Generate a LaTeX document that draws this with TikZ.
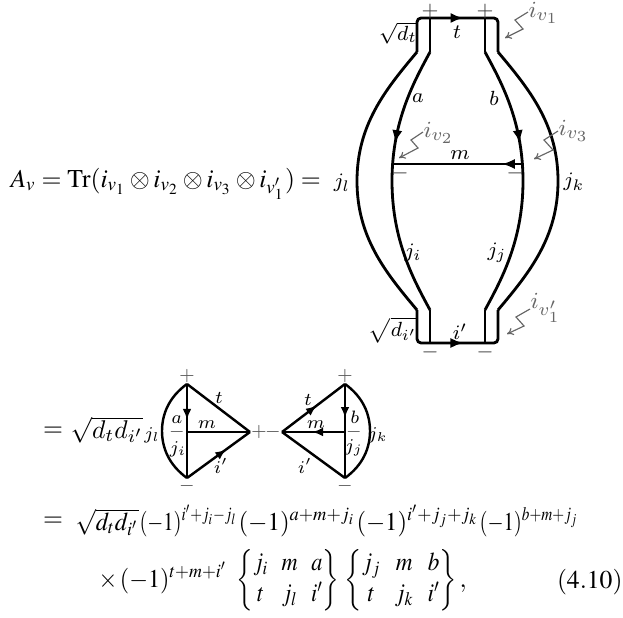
\documentclass[tikz,border=0pt]{standalone}
\usepackage{amsmath}
\usepackage{graphicx}
\usepackage{mathptmx}
\usepackage[no-math]{fontspec}
\setmainfont{Liberation Serif}
\usetikzlibrary{arrows.meta,decorations.markings}
\DeclareMathVersion{cm}
\SetSymbolFont{operators}{cm}{OT1}{lmr}{m}{n}
\SetSymbolFont{letters}{cm}{OML}{lmm}{m}{it}
\SetSymbolFont{symbols}{cm}{OMS}{lmsy}{m}{n}
\SetSymbolFont{largesymbols}{cm}{OMX}{lmex}{m}{n}
\tikzset{
  wire/.style={line width=1.1pt},
  swire/.style={line width=0.95pt},
  arrowat/.style={postaction={decorate,decoration={markings,
      mark=at position #1 with {\arrow{Latex[length=5pt,width=4pt]}}}}},
  sarrowat/.style={postaction={decorate,decoration={markings,
      mark=at position #1 with {\arrow{Latex[length=4.2pt,width=3.4pt]}}}}},
  lbl/.style={inner sep=0pt,font=\mathversion{cm}\fontsize{8}{9}\selectfont},
  slbl/.style={inner sep=0pt,font=\mathversion{cm}\fontsize{6.8}{8}\selectfont},
  sgn/.style={inner sep=0pt,text=black!75,font=\mathversion{cm}\fontsize{8.5}{9}\selectfont},
  ssgn/.style={inner sep=0pt,text=black!65,font=\mathversion{cm}\fontsize{7}{8}\selectfont},
  glbl/.style={inner sep=0pt,text=black!60,font=\mathversion{cm}\fontsize{9.2}{10}\selectfont},
  gzig/.style={draw=black!60,line width=0.45pt,-{To[length=2.5pt,width=3pt]}},
  eqn/.style={inner sep=0pt,font=\fontsize{10}{12}\selectfont},
}
\newcommand{\fitw}[2]{\resizebox{#1}{\height}{$#2$}}
\begin{document}
\begin{tikzpicture}[x=0.39pt,y=-0.39pt]
\useasboundingbox (0,0) rectangle (623,617);

% ---------- first line ----------
\node[eqn,anchor=base west] (eq1) at (10,187)
  {\fitw{121pt}{A_v = \mathrm{Tr}(i_{v_1}\otimes i_{v_2}\otimes i_{v_3}\otimes i_{v_1'}) =}};
\node[lbl] (jl) at (342,183) {$j_l$};
\node[lbl] (jk) at (574,182) {$j_k$};

% ---------- big diagram ----------
\coordinate (OLt) at (417,52);  \coordinate (OLb) at (417,310);
\coordinate (ILt) at (430,52);  \coordinate (ILb) at (430,310);
\coordinate (IRt) at (485,52);  \coordinate (IRb) at (485,310);
\coordinate (ORt) at (498,52);  \coordinate (ORb) at (498,310);
\coordinate (TL) at (417,18);   \coordinate (TR) at (498,18);
\coordinate (TIL) at (430,18);  \coordinate (TIR) at (485,18);
\coordinate (BL) at (417,343);  \coordinate (BR) at (498,343);
\coordinate (BIL) at (430,343); \coordinate (BIR) at (485,343);
\coordinate (ML) at (392,164);  \coordinate (MR) at (523,164);

\draw[wire,rounded corners=1.6pt,arrowat=0.54] (OLt) -- (TL) -- (TR) -- (ORt);
\draw[wire] (ILt) -- (TIL);
\draw[wire] (IRt) -- (TIR);
\draw[wire,rounded corners=1.6pt,arrowat=0.54] (OLb) -- (BL) -- (BR) -- (ORb);
\draw[wire] (ILb) -- (BIL);
\draw[wire] (IRb) -- (BIR);

\draw[wire,arrowat=0.36] (ILt) .. controls (415,80) and (392,120) .. (392,181)
   .. controls (392,242) and (415,282) .. (ILb);
\draw[wire,arrowat=0.36] (IRt) .. controls (500,80) and (523,120) .. (523,181)
   .. controls (523,242) and (500,282) .. (IRb);
\draw[wire] (OLt) .. controls (385,90) and (357,125) .. (357,181)
   .. controls (357,237) and (385,272) .. (OLb);
\draw[wire] (ORt) .. controls (530,90) and (558,125) .. (558,181)
   .. controls (558,237) and (530,272) .. (ORb);
\draw[wire,arrowat=0.16] (MR) -- (ML);

\node[sgn] (p1) at (430,11) {$+$};
\node[sgn] (p2) at (485,11) {$+$};
\node[sgn] (n1) at (430,352) {$-$};
\node[sgn] (n2) at (485,352) {$-$};
\node[sgn] (n3) at (400,173) {$-$};
\node[sgn] (n4) at (515,173) {$-$};

\node[lbl] (lt) at (457,32) {$t$};
\node[lbl] (la) at (418,98) {$a$};
\node[lbl] (lb) at (494,98) {$b$};
\node[lbl] (lm) at (460,155) {$m$};
\node[lbl] (lji) at (413,253) {$j_i$};
\node[lbl] (ljj) at (497,253) {$j_j$};
\node[lbl] (lip) at (460,332) {$i'$};
\node[lbl] (sdt) at (398,33) {$\sqrt{d_t}$};
\node[lbl] (sdi) at (393,330) {$\sqrt{d_{i'}}$};

\node[glbl,anchor=west] (iv1) at (528,13) {$i_{v_1}$};
\node[glbl,anchor=west] (iv2) at (423,133) {$i_{v_2}$};
\node[glbl,anchor=west] (iv3) at (558,131) {$i_{v_3}$};
\node[glbl,anchor=west] (iv4) at (530,308) {$i_{v_1'}$};
\draw[gzig] (iv1.west) ++(0,-1) -- ++(-13,8) -- ++(8,9) -- ++(-18,9);
\draw[gzig] (iv2.west) ++(0,-1) -- ++(-12,8) -- ++(7,8) -- ++(-19,10);
\draw[gzig] (iv3.west) ++(0,0) -- ++(-14,9) -- ++(9,10) -- ++(-19,9);
\draw[gzig] (iv4.west) ++(0,1) -- ++(-14,8) -- ++(8,9) -- ++(-17,8);

% ---------- second line ----------
\node[eqn] (eq2) at (53,432) {$=$};
\node[inner sep=0pt,font=\mathversion{cm}\fontsize{9.6}{11}\selectfont] (sq2) at (107,430) {$\sqrt{d_td_{i'}}$};
\node[slbl] (jl2) at (152,435) {$j_l$};
\node[slbl] (jk2) at (378,435) {$j_k$};

% left small diagram
\coordinate (AT) at (187,384); \coordinate (AB) at (187,478);
\coordinate (AM) at (187,432); \coordinate (AR) at (250,432);
\draw[swire,sarrowat=0.38] (AT) -- (AB);
\draw[swire] (AM) -- (AR);
\draw[swire] (AT) -- (AR);
\draw[swire,sarrowat=0.62] (AB) -- (AR);
\draw[swire] (AT) .. controls (169,397) and (162,414) .. (162,431)
   .. controls (162,448) and (169,465) .. (AB);
\node[ssgn] (ap) at (187,376) {$+$};
\node[ssgn] (an) at (187,486) {$-$};
\node[ssgn] (am) at (177,432) {$-$};
\node[ssgn] (ar) at (259,432) {$+$};
\node[slbl] (aa) at (177,420) {$a$};
\node[slbl] (aji) at (178,449) {$j_i$};
\node[slbl] (am2) at (207,425) {$m$};
\node[slbl] (at) at (219,398) {$t$};
\node[slbl] (aip) at (221,466) {$i'$};

% right small diagram
\coordinate (BT) at (345,384); \coordinate (BB) at (345,478);
\coordinate (BM) at (345,432); \coordinate (BLv) at (282,432);
\draw[swire,sarrowat=0.36] (BT) -- (BB);
\draw[swire,sarrowat=0.52] (BM) -- (BLv);
\draw[swire,sarrowat=0.55] (BLv) -- (BT);
\draw[swire] (BLv) -- (BB);
\draw[swire] (BT) .. controls (363,397) and (370,414) .. (370,431)
   .. controls (370,448) and (363,465) .. (BB);
\node[ssgn] (bp) at (345,376) {$+$};
\node[ssgn] (bn) at (345,486) {$-$};
\node[ssgn] (bm) at (354,432) {$-$};
\node[ssgn] (bl) at (273,432) {$-$};
\node[slbl] (bt) at (308,400) {$t$};
\node[slbl] (bb) at (355,417) {$b$};
\node[slbl] (bm2) at (316,425) {$m$};
\node[slbl] (bjj) at (354,448) {$j_j$};
\node[slbl] (bip) at (305,466) {$i'$};

% ---------- third line ----------
\node[eqn] (eq3) at (53,522) {$=$};
\node[eqn,anchor=base west] (l3a) at (75,530) {\fitw{24.6pt}{\sqrt{d_td_{i'}}}};
\node[eqn,anchor=base west] (l3b) at (139,530) {\fitw{38.2pt}{(-1)^{i'+j_i-j_l}}};
\node[eqn,anchor=base west] (l3c) at (238,530) {\fitw{45.6pt}{(-1)^{a+m+j_i}}};
\node[eqn,anchor=base west] (l3d) at (356,530) {\fitw{47.6pt}{(-1)^{i'+j_j+j_k}}};
\node[eqn,anchor=base west] (l3e) at (479,530) {\fitw{38.6pt}{(-1)^{b+m+j_j}}};

% ---------- fourth line ----------
\node[eqn,anchor=base west] (l4a) at (98,587) {\fitw{50.2pt}{\times\,(-1)^{t+m+i'}}};
\node[eqn,anchor=west] (l4b) at (236,580)
  {\setlength{\arraycolsep}{3pt}\fitw{40.2pt}{\begin{Bmatrix} j_i & m & a\\ t & j_l & i'\end{Bmatrix}}};
\node[eqn,anchor=west] (l4c) at (344,580)
  {\setlength{\arraycolsep}{3pt}\fitw{44pt}{\begin{Bmatrix} j_j & m & b\\ t & j_k & i'\end{Bmatrix}}};
\node[eqn,anchor=base west] (l4d) at (459,587) {$,$};
\node[eqn,anchor=base east] (num) at (623,588) {$(4.10)$};
\end{tikzpicture}
\end{document}
